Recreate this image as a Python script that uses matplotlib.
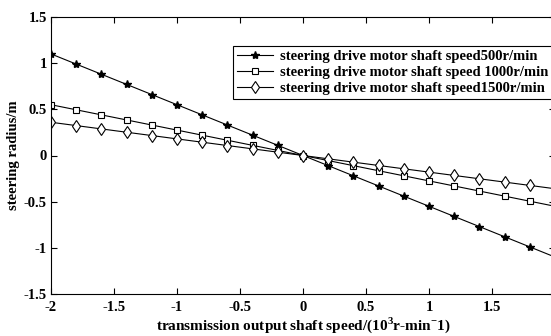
import numpy as np
import matplotlib
matplotlib.use("Agg")
import matplotlib.pyplot as plt

plt.rcParams['font.family'] = ['Liberation Serif', 'DejaVu Serif']
plt.rcParams['font.weight'] = 'bold'
plt.rcParams['mathtext.fontset'] = 'custom'
plt.rcParams['mathtext.rm'] = 'Liberation Serif:bold'

# transmission output shaft speed (10^3 r/min)
speed = [-2.0, -1.8, -1.6, -1.4, -1.2, -1.0, -0.8, -0.6, -0.4, -0.2, 0.0,
         0.2, 0.4, 0.6, 0.8, 1.0, 1.2, 1.4, 1.6, 1.8, 2.0]

# steering radius (m) for each motor shaft speed
r500 = [1.10, 0.99, 0.88, 0.77, 0.66, 0.55, 0.44, 0.33, 0.22, 0.11, 0.00,
        -0.11, -0.22, -0.33, -0.44, -0.55, -0.66, -0.77, -0.88, -0.99, -1.10]
r1000 = [0.55, 0.495, 0.44, 0.385, 0.33, 0.275, 0.22, 0.165, 0.11, 0.055, 0.00,
         -0.055, -0.11, -0.165, -0.22, -0.275, -0.33, -0.385, -0.44, -0.495, -0.55]
r1500 = [0.36, 0.324, 0.288, 0.252, 0.216, 0.18, 0.144, 0.108, 0.072, 0.036, 0.00,
         -0.036, -0.072, -0.108, -0.144, -0.18, -0.216, -0.252, -0.288, -0.324, -0.36]

labels = ['steering drive motor shaft speed500r/min',
          'steering drive motor shaft speed 1000r/min',
          'steering drive motor shaft speed1500r/min']

fig = plt.figure(figsize=(5.51, 3.36), dpi=100)
ax = fig.add_axes([51/551, 42/336, 504/551, 277/336])

ax.plot(speed, r500, 'k-', marker='*', markersize=6, linewidth=0.8, label=labels[0])
ax.plot(speed, r1000, 'k-', marker='s', markersize=4.5, markerfacecolor='white',
        markeredgewidth=0.8, linewidth=0.8, label=labels[1])
ax.plot(speed, r1500, 'k-', marker='d', markersize=6, markerfacecolor='white',
        markeredgewidth=0.8, linewidth=0.8, label=labels[2])

ax.set_xlim(-2, 2)
ax.set_ylim(-1.5, 1.5)
ax.set_xticks([-2, -1.5, -1, -0.5, 0, 0.5, 1, 1.5, 2])
ax.set_xticklabels(['-2', '-1.5', '-1', '-0.5', '0', '0.5', '1', '1.5', ''])
ax.set_yticks([-1.5, -1, -0.5, 0, 0.5, 1, 1.5])
ax.set_yticklabels(['-1.5', '-1', '-0.5', '0', '0.5', '1', '1.5'])
ax.tick_params(direction='in', top=True, right=True, length=4, width=0.8,
               labelsize=10.5, pad=3)
ax.tick_params(axis='x', pad=5)
for s in ax.spines.values():
    s.set_linewidth(0.8)

ax.set_xlabel('transmission output shaft speed/(10$^3$r-min$^{-}$1)', fontsize=11,
              fontweight='bold', labelpad=1)
ax.set_ylabel('steering radius/m', fontsize=10.5, fontweight='bold', labelpad=3)

leg = ax.legend(loc='upper left', bbox_to_anchor=(233/551, 1 - 46/336),
                bbox_transform=fig.transFigure, fontsize=10.5, frameon=True,
                fancybox=False, edgecolor='black', framealpha=1,
                borderpad=0.25, labelspacing=0.2, handlelength=2.5,
                handletextpad=0.45, borderaxespad=0)
leg.get_frame().set_linewidth(0.8)

fig.savefig('out.png', dpi=100)
